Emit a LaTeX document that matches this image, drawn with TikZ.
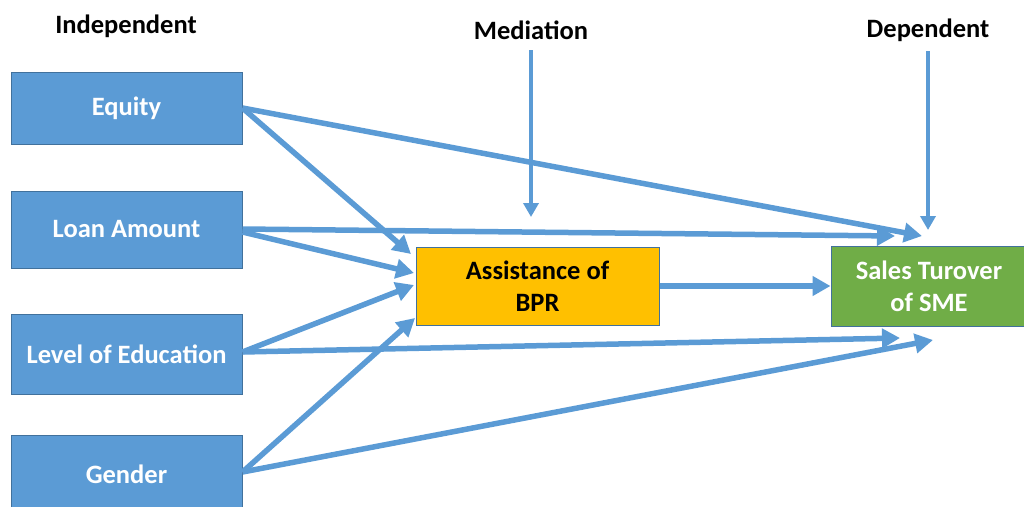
\documentclass[tikz,border=0pt]{standalone}
\usepackage{fontspec}
\setmainfont{Carlito}
\usetikzlibrary{arrows.meta}
\definecolor{oblue}{HTML}{5B9BD5}
\definecolor{oborder}{HTML}{41719C}
\definecolor{ogold}{HTML}{FFC000}
\definecolor{ogreen}{HTML}{70AD47}
\begin{document}
\begin{tikzpicture}[x=1pt,y=-1pt,
  box/.style={draw=oborder,line width=1pt,inner sep=0pt,align=center,
    font=\fontsize{26.5}{32}\selectfont\bfseries},
  indep/.style={box,fill=oblue,text=white,minimum width=231pt},
  head/.style={font=\fontsize{26.5}{32}\selectfont\bfseries,inner sep=0pt},
  conn/.style={draw=oblue,line width=5.5pt,-{Triangle[length=18pt,width=19pt]}},
  vconn/.style={draw=oblue,line width=3.5pt,-{Triangle[length=14pt,width=15pt]}}]
\useasboundingbox (0,0) rectangle (1024,506);
\begin{scope}
\clip (0,0) rectangle (1024,506);
\node[indep,minimum height=72pt] (eq) at (126.5,108) {Equity};
\node[indep,minimum height=77pt] (loan) at (126.5,229.5) {Loan Amount};
\node[indep,minimum height=80pt] (edu) at (126.5,354) {Level of Education};
\node[indep,minimum height=78pt] (gen) at (126.5,474) {Gender};
\node[box,fill=ogold,text=black,minimum width=243pt,minimum height=78pt] (bpr) at (537.5,286) {Assistance of\\BPR};
\node[box,fill=ogreen,text=white,minimum width=196pt,minimum height=80pt] (sme) at (929,286) {Sales Turover\\of SME};
\end{scope}
\node[head] (hind) at (126,26) {Independent};
\node[head] (hmed) at (531,30) {Mediation};
\node[head] (hdep) at (928,30) {Dependent};
\coordinate (medstart) at (531,50);
\coordinate (depstart) at (928,51);
\coordinate (medtip) at (531,217);
\coordinate (deptip) at (928,230);
\coordinate (t1) at (922,236);
\coordinate (t2) at (895,236);
\coordinate (t3) at (900,338);
\coordinate (t4) at (933,340);
\coordinate (b1) at (411,254);
\coordinate (b2) at (414,273);
\coordinate (b3) at (414,285);
\coordinate (b4) at (415,318);
\draw[vconn] (medstart) -- (medtip);
\draw[vconn] (depstart) -- (deptip);
\draw[conn] (eq.east) -- (t1);
\draw[conn] (eq.east) -- (b1);
\draw[conn] ([yshift=0.5pt]loan.east) -- (t2);
\draw[conn] ([yshift=-2.5pt]loan.east) -- (b2);
\draw[conn] ([yshift=2pt]edu.east) -- (b3);
\draw[conn] ([yshift=2pt]edu.east) -- (t3);
\draw[conn] ([yshift=2pt]gen.east) -- (b4);
\draw[conn] ([yshift=2pt]gen.east) -- (t4);
\draw[conn] (bpr.east) -- (sme.west);
\end{tikzpicture}
\end{document}
